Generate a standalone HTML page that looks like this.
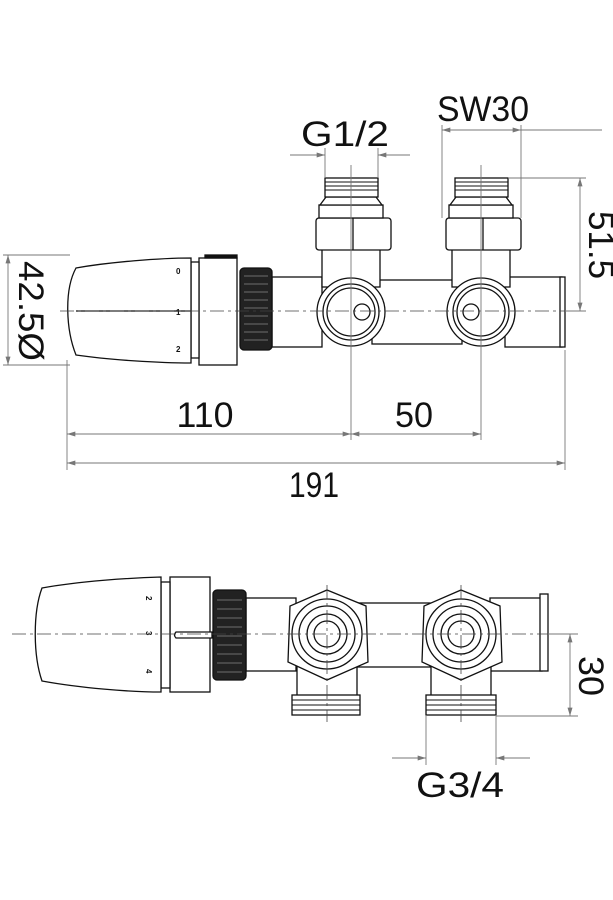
<!DOCTYPE html>
<html><head><meta charset="utf-8"><style>html,body{margin:0;padding:0;background:#fff}svg{display:block}</style></head><body>
<svg width="613" height="900" viewBox="0 0 613 900" xmlns="http://www.w3.org/2000/svg">
<defs>
<marker id="a" viewBox="0 0 10 6" refX="10" refY="3" markerWidth="14" markerHeight="5" orient="auto-start-reverse" markerUnits="userSpaceOnUse"><path d="M0,0 L10,3 L0,6z" fill="#777"/></marker>
</defs>
<g font-family="Liberation Sans, sans-serif" fill="#111" font-size="35">
<!-- ========== TOP VIEW ========== -->
<g stroke="#111" stroke-width="1.3" fill="#fff">
<!-- right tube -->
<rect x="505" y="277" width="57" height="70"/>
<rect x="560" y="277" width="5" height="70"/>
<!-- middle body -->
<rect x="372" y="280" width="90" height="64"/>
<!-- left tube -->
<rect x="272" y="277" width="50" height="70"/>
<!-- risers -->
<rect x="322" y="247" width="58" height="40"/>
<rect x="452" y="247" width="58" height="40"/>
<!-- hex nuts -->
<rect x="316" y="218" width="75" height="32" rx="3"/>
<line x1="353" y1="218" x2="353" y2="250"/>
<rect x="446" y="218" width="75" height="32" rx="3"/>
<line x1="483" y1="218" x2="483" y2="250"/>
<!-- fittings -->
<rect x="319" y="205" width="64" height="13"/>
<rect x="449" y="205" width="64" height="13"/>
<path d="M326,197 L376,197 L382,205 L320,205Z"/>
<path d="M456,197 L506,197 L512,205 L450,205Z"/>
<rect x="325" y="178" width="53" height="19"/>
<rect x="455" y="178" width="53" height="19"/>
<g stroke-width="1">
<line x1="325" y1="182" x2="378" y2="182"/><line x1="325" y1="186" x2="378" y2="186"/><line x1="325" y1="190" x2="378" y2="190"/>
<line x1="455" y1="182" x2="508" y2="182"/><line x1="455" y1="186" x2="508" y2="186"/><line x1="455" y1="190" x2="508" y2="190"/>
</g>
<!-- ports -->
<circle cx="351" cy="312" r="34"/><circle cx="351" cy="312" r="28"/><circle cx="351" cy="312" r="24"/><circle cx="362" cy="312" r="8"/>
<circle cx="481" cy="312" r="34"/><circle cx="481" cy="312" r="28"/><circle cx="481" cy="312" r="24"/><circle cx="471" cy="312" r="8"/>
<!-- black knurled nut -->
<rect x="240" y="268" width="32" height="82" rx="4" fill="#222"/>
<g stroke="#888" stroke-width="0.8">
<line x1="244" y1="276" x2="268" y2="276"/><line x1="244" y1="284" x2="268" y2="284"/><line x1="244" y1="292" x2="268" y2="292"/><line x1="244" y1="300" x2="268" y2="300"/><line x1="244" y1="308" x2="268" y2="308"/><line x1="244" y1="316" x2="268" y2="316"/><line x1="244" y1="324" x2="268" y2="324"/><line x1="244" y1="332" x2="268" y2="332"/><line x1="244" y1="340" x2="268" y2="340"/>
</g>
<!-- collar -->
<rect x="199" y="258" width="38" height="107"/>
<rect x="205" y="255" width="32" height="3" fill="#111"/>
<rect x="191" y="262" width="8" height="96"/>
<!-- cap -->
<path d="M76,268 C110,262 160,258 191,258 L191,363 C160,363 110,360 76,355 C66,330 64,290 76,268Z"/>
<line x1="76" y1="311" x2="191" y2="311"/>
</g>
<g font-size="8" font-weight="bold"><text x="176" y="274">0</text><text x="176" y="315">1</text><text x="176" y="352">2</text></g>
<!-- center lines -->
<g stroke="#444" stroke-width="0.8" stroke-dasharray="14,4,3,4" fill="none">
<line x1="60" y1="311" x2="575" y2="311"/>
</g>
<!-- dims top -->
<g stroke="#777" stroke-width="0.9" fill="none">
<line x1="351" y1="165" x2="351" y2="440"/><line x1="481" y1="165" x2="481" y2="440"/>
<line x1="67" y1="360" x2="67" y2="470"/><line x1="565" y1="350" x2="565" y2="470"/>
<line x1="67" y1="434" x2="351" y2="434" marker-start="url(#a)" marker-end="url(#a)"/>
<line x1="351" y1="434" x2="481" y2="434" marker-start="url(#a)" marker-end="url(#a)"/>
<line x1="67" y1="463" x2="565" y2="463" marker-start="url(#a)" marker-end="url(#a)"/>
<line x1="290" y1="155" x2="325" y2="155" marker-end="url(#a)"/><line x1="410" y1="155" x2="378" y2="155" marker-end="url(#a)"/>
<line x1="325" y1="148" x2="325" y2="178"/><line x1="378" y1="148" x2="378" y2="178"/>
<line x1="442" y1="130" x2="521" y2="130" marker-start="url(#a)" marker-end="url(#a)"/><line x1="521" y1="130" x2="602" y2="130"/>
<line x1="442" y1="125" x2="442" y2="218"/><line x1="521" y1="125" x2="521" y2="218"/>
<line x1="508" y1="178" x2="586" y2="178"/><line x1="565" y1="311" x2="586" y2="311"/>
<line x1="580" y1="178" x2="580" y2="311" marker-start="url(#a)" marker-end="url(#a)"/>
<line x1="3" y1="255" x2="70" y2="255"/><line x1="3" y1="365" x2="70" y2="365"/>
<line x1="8" y1="255" x2="8" y2="365" marker-start="url(#a)" marker-end="url(#a)"/>
</g>
<text x="345" y="146" text-anchor="middle" textLength="88" lengthAdjust="spacingAndGlyphs">G1/2</text>
<text x="483" y="121" text-anchor="middle" textLength="92" lengthAdjust="spacingAndGlyphs">SW30</text>
<text x="205" y="427" text-anchor="middle" textLength="57" lengthAdjust="spacingAndGlyphs">110</text>
<text x="414" y="427" text-anchor="middle" textLength="38" lengthAdjust="spacingAndGlyphs">50</text>
<text x="314" y="497" text-anchor="middle" textLength="50" lengthAdjust="spacingAndGlyphs">191</text>
<text transform="translate(19,311) rotate(90)" text-anchor="middle" textLength="100" lengthAdjust="spacingAndGlyphs">42.5Ø</text>
<text transform="translate(589,245) rotate(90)" text-anchor="middle" textLength="68" lengthAdjust="spacingAndGlyphs">51.5</text>

<!-- ========== BOTTOM VIEW ========== -->
<g stroke="#111" stroke-width="1.3" fill="#fff">
<rect x="490" y="598" width="52" height="73"/>
<rect x="540" y="594" width="8" height="77"/>
<rect x="355" y="603" width="75" height="64"/>
<rect x="246" y="598" width="50" height="73"/>
<!-- risers + threads -->
<rect x="297" y="665" width="60" height="32"/><rect x="431" y="665" width="60" height="32"/>
<rect x="292" y="695" width="68" height="20"/><rect x="426" y="695" width="70" height="20"/>
<g stroke-width="1"><line x1="292" y1="700" x2="360" y2="700"/><line x1="292" y1="705" x2="360" y2="705"/><line x1="292" y1="710" x2="360" y2="710"/>
<line x1="426" y1="700" x2="496" y2="700"/><line x1="426" y1="705" x2="496" y2="705"/><line x1="426" y1="710" x2="496" y2="710"/></g>
<!-- hex ports -->
<path d="M327,590 L366,606 L368,662 L327,680 L288,662 L290,606Z"/>
<circle cx="327" cy="634" r="35"/><circle cx="327" cy="634" r="28"/><circle cx="327" cy="634" r="20"/><circle cx="327" cy="634" r="13"/>
<path d="M461,590 L500,606 L502,662 L461,680 L422,662 L424,606Z"/>
<circle cx="461" cy="634" r="35"/><circle cx="461" cy="634" r="28"/><circle cx="461" cy="634" r="20"/><circle cx="461" cy="634" r="13"/>
<!-- nut -->
<rect x="213" y="590" width="33" height="90" rx="4" fill="#222"/>
<g stroke="#888" stroke-width="0.8"><line x1="217" y1="600" x2="242" y2="600"/><line x1="217" y1="609" x2="242" y2="609"/><line x1="217" y1="618" x2="242" y2="618"/><line x1="217" y1="627" x2="242" y2="627"/><line x1="217" y1="636" x2="242" y2="636"/><line x1="217" y1="645" x2="242" y2="645"/><line x1="217" y1="654" x2="242" y2="654"/><line x1="217" y1="663" x2="242" y2="663"/><line x1="217" y1="672" x2="242" y2="672"/></g>
<!-- collar -->
<rect x="170" y="577" width="40" height="115"/>
<rect x="161" y="582" width="9" height="106"/>
<path d="M176,632 L212,632 L212,638 L176,638 Q173,635 176,632Z"/>
<!-- cap -->
<path d="M42,588 C80,581 130,578 161,577 L161,692 C130,692 80,688 42,681 C33,655 33,612 42,588Z"/>
</g>
<g font-size="8" font-weight="bold"><text transform="translate(146,596) rotate(90)">2</text><text transform="translate(146,631) rotate(90)">3</text><text transform="translate(146,669) rotate(90)">4</text></g>
<g stroke="#444" stroke-width="0.8" stroke-dasharray="14,4,3,4" fill="none">
<line x1="12" y1="634" x2="565" y2="634"/>
<line x1="327" y1="585" x2="327" y2="722"/><line x1="461" y1="585" x2="461" y2="722"/>
</g>
<g stroke="#777" stroke-width="0.9" fill="none">
<line x1="548" y1="634" x2="578" y2="634"/><line x1="496" y1="716" x2="578" y2="716"/>
<line x1="570" y1="634" x2="570" y2="716" marker-start="url(#a)" marker-end="url(#a)"/>
<line x1="426" y1="715" x2="426" y2="765"/><line x1="496" y1="715" x2="496" y2="765"/>
<line x1="392" y1="758" x2="426" y2="758" marker-end="url(#a)"/><line x1="530" y1="758" x2="496" y2="758" marker-end="url(#a)"/>
</g>
<text x="460" y="797" text-anchor="middle" textLength="88" lengthAdjust="spacingAndGlyphs">G3/4</text>
<text transform="translate(579,676) rotate(90)" text-anchor="middle" textLength="40" lengthAdjust="spacingAndGlyphs">30</text>
</g>
</svg>
</body></html>
